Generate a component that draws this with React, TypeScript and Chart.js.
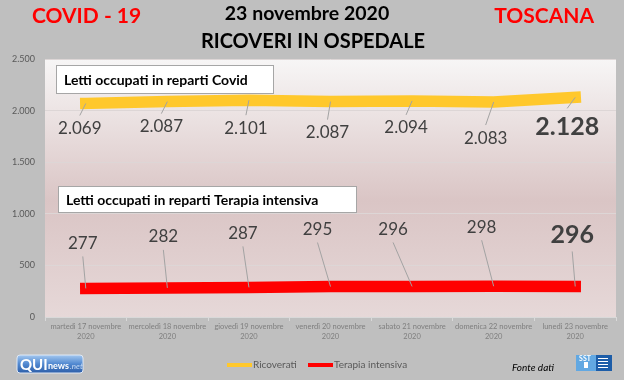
import React, { useEffect, useRef } from "react";
import { Chart, registerables } from "chart.js";

Chart.register(...registerables);

// ---- data ----
const categories: string[][] = [
  ["martedì 17 novembre", "2020"],
  ["mercoledì 18 novembre", "2020"],
  ["giovedì 19 novembre", "2020"],
  ["venerdì 20 novembre", "2020"],
  ["sabato 21 novembre", "2020"],
  ["domenica 22 novembre", "2020"],
  ["lunedì 23 novembre", "2020"],
];
const ricoverati = [2069, 2087, 2101, 2087, 2094, 2083, 2128];
const terapiaIntensiva = [277, 282, 287, 295, 296, 298, 296];
const seriesNames = ["Ricoverati", "Terapia intensiva"];
const yMin = 0;
const yMax = 2500;
const yStep = 500;

// ---- label placement (style, offsets from each point in px) ----
const ricLabelOffsets = [
  [-6, 25], [-6, 25], [-3, 28], [-3, 31], [-6, 27], [-8, 36], [-8, 30],
];
const tiLabelOffsets = [
  [-3, -45], [-4, -51], [-6, -54], [-13, -57], [-19, -57], [-12, -59], [-3, -52],
];

const FONT = "Lato, 'Open Sans', 'DejaVu Sans', sans-serif";

const fmt = (n: number) =>
  String(Math.round(n)).replace(/\B(?=(\d{3})+(?!\d))/g, ".");

const bgPlugin = {
  id: "bg",
  beforeDraw(chart: any) {
    const { ctx, chartArea, width, height } = chart;
    ctx.save();
    ctx.fillStyle = "#bfbfbf";
    ctx.fillRect(0, 0, width, height);
    const g = ctx.createLinearGradient(0, chartArea.top, 0, chartArea.bottom);
    g.addColorStop(0, "#f7f6f6");
    g.addColorStop(0.55, "#dac5c5");
    g.addColorStop(1, "#e6d8d8");
    ctx.fillStyle = g;
    ctx.fillRect(chartArea.left, chartArea.top, chartArea.right - chartArea.left, chartArea.bottom - chartArea.top);
    ctx.restore();
  },
};

const labelsPlugin = {
  id: "dataLabels",
  afterDatasetsDraw(chart: any) {
    const { ctx } = chart;
    const sets = [
      { idx: 0, offs: ricLabelOffsets, below: true },
      { idx: 1, offs: tiLabelOffsets, below: false },
    ];
    ctx.save();
    for (const s of sets) {
      const meta = chart.getDatasetMeta(s.idx);
      const data = chart.data.datasets[s.idx].data as number[];
      meta.data.forEach((pt: any, i: number) => {
        const last = i === data.length - 1;
        const lx = pt.x + s.offs[i][0];
        const ly = pt.y + s.offs[i][1];
        const gap = last ? (s.below ? 19 : 17) : 13;
        ctx.strokeStyle = "#a3a3a3";
        ctx.lineWidth = 1;
        ctx.beginPath();
        ctx.moveTo(lx, s.below ? ly - gap : ly + gap);
        ctx.lineTo(pt.x, pt.y);
        ctx.stroke();
        ctx.fillStyle = "#404040";
        ctx.textAlign = "center";
        ctx.textBaseline = "middle";
        ctx.font = last ? `bold 25px ${FONT}` : `17px ${FONT}`;
        ctx.fillText(fmt(data[i]), lx, ly);
      });
    }
    ctx.restore();
  },
};

const decorPlugin = {
  id: "decor",
  afterDraw(chart: any) {
    const { ctx } = chart;
    ctx.save();
    ctx.textBaseline = "middle";
    // titles
    ctx.fillStyle = "#ff0000";
    ctx.font = `bold 21px ${FONT}`;
    ctx.textAlign = "left";
    ctx.fillText("COVID - 19", 32, 16);
    ctx.textAlign = "right";
    ctx.fillText("TOSCANA", 594, 16);
    ctx.fillStyle = "#000000";
    ctx.textAlign = "center";
    ctx.font = `bold 19.5px ${FONT}`;
    ctx.fillText("23 novembre 2020", 307, 14);
    ctx.font = `bold 20px ${FONT}`;
    ctx.fillText("RICOVERI IN OSPEDALE", 313, 42);

    // annotation boxes
    const box = (x: number, y: number, w: number, h: number, text: string) => {
      ctx.fillStyle = "#ffffff";
      ctx.fillRect(x, y, w, h);
      ctx.strokeStyle = "#a6a6a6";
      ctx.lineWidth = 1;
      ctx.strokeRect(x + 0.5, y + 0.5, w, h);
      ctx.fillStyle = "#000000";
      ctx.textAlign = "left";
      ctx.font = `bold 14px ${FONT}`;
      ctx.fillText(text, x + 8, y + h / 2 + 1);
    };
    box(56, 65, 217, 28, "Letti occupati in reparti Covid");
    box(58, 186, 298, 26, "Letti occupati in reparti Terapia intensiva");

    // legend
    const legendY = 365;
    const colors = chart.data.datasets.map((d: any) => d.borderColor);
    const items = [
      { x: 227, w: 25 },
      { x: 308, w: 25 },
    ];
    ctx.font = `10px ${FONT}`;
    ctx.textAlign = "left";
    items.forEach((it, i) => {
      ctx.fillStyle = colors[i];
      ctx.fillRect(it.x, legendY - 2, it.w, 4);
      ctx.fillStyle = "#595959";
      ctx.fillText(seriesNames[i], it.x + it.w + 1, legendY);
    });

    // source
    ctx.fillStyle = "#000000";
    ctx.font = `italic 10px ${FONT}`;
    ctx.fillText("Fonte dati", 512, 368);

    // QUInews logo
    const lg = ctx.createLinearGradient(0, 355, 0, 373);
    lg.addColorStop(0, "#a4c8f0");
    lg.addColorStop(0.5, "#5088d0");
    lg.addColorStop(1, "#2d5ea8");
    ctx.fillStyle = lg;
    ctx.beginPath();
    (ctx as any).roundRect(17, 355, 66, 18, 3);
    ctx.fill();
    ctx.strokeStyle = "#dfe8f5";
    ctx.stroke();
    ctx.fillStyle = "#ffffff";
    ctx.font = `bold 15px ${FONT}`;
    ctx.fillText("QUI", 20, 365);
    ctx.font = `bold 9px ${FONT}`;
    ctx.fillText("news", 48, 366);
    ctx.fillStyle = "#c9dcf5";
    ctx.font = `italic 8px ${FONT}`;
    ctx.fillText(".net", 70, 366);

    // SST logo
    ctx.fillStyle = "#62a8e2";
    ctx.fillRect(576, 355, 20, 16);
    ctx.fillStyle = "#1d5da8";
    ctx.fillRect(596, 355, 16, 16);
    ctx.fillStyle = "#ffffff";
    ctx.font = `bold 7px ${FONT}`;
    ctx.textAlign = "center";
    ctx.fillText("SST", 585, 359);
    ctx.fillRect(584, 362, 4, 6);
    for (let k = 0; k < 4; k++) ctx.fillRect(598, 358 + k * 3, 10, 1);
    ctx.restore();
  },
};

export default function App() {
  const ref = useRef<HTMLCanvasElement>(null);
  useEffect(() => {
    const canvas = ref.current!;
    const chart = new Chart(canvas, {
      type: "line",
      data: {
        labels: categories,
        datasets: [
          {
            label: seriesNames[0],
            data: ricoverati,
            borderColor: "#ffc82c",
            borderWidth: 11.5,
            borderCapStyle: "square",
            pointRadius: 0,
            tension: 0,
          },
          {
            label: seriesNames[1],
            data: terapiaIntensiva,
            borderColor: "#ff0000",
            borderWidth: 11.5,
            borderCapStyle: "square",
            pointRadius: 0,
            tension: 0,
          },
        ],
      },
      options: {
        animation: false,
        responsive: false,
        devicePixelRatio: 1,
        layout: { padding: { left: 0, right: 8, top: 59, bottom: 0 } },
        plugins: {
          legend: { display: false },
          title: { display: false },
          tooltip: { enabled: false },
        },
        scales: {
          x: {
            offset: true,
            grid: {
              offset: true,
              drawOnChartArea: false,
              drawTicks: true,
              tickLength: 4,
              color: "#d9d9d9",
            },
            border: { color: "#d9d9d9" },
            ticks: {
              color: "#7f7f7f",
              font: { family: FONT, size: 7.5, lineHeight: 1.33 },
              maxRotation: 0,
              autoSkip: false,
              padding: 1,
            },
            afterFit: (s: any) => {
              s.height = 63;
            },
          },
          y: {
            min: yMin,
            max: yMax,
            ticks: {
              stepSize: yStep,
              callback: (v: any) => fmt(Number(v)),
              color: "#595959",
              font: { family: FONT, size: 9 },
              padding: 10,
            },
            grid: { color: "#ddd6d6", drawTicks: false },
            border: { display: false },
            afterFit: (s: any) => {
              s.width = 45;
            },
          },
        },
      } as any,
      plugins: [bgPlugin, labelsPlugin, decorPlugin],
    });
    return () => chart.destroy();
  }, []);
  return (
    <div style={{ position: "fixed", left: 0, top: 0, width: 624, height: 380, background: "#bfbfbf" }}>
      <canvas ref={ref} width={624} height={380} style={{ width: 624, height: 380, display: "block" }} />
    </div>
  );
}
